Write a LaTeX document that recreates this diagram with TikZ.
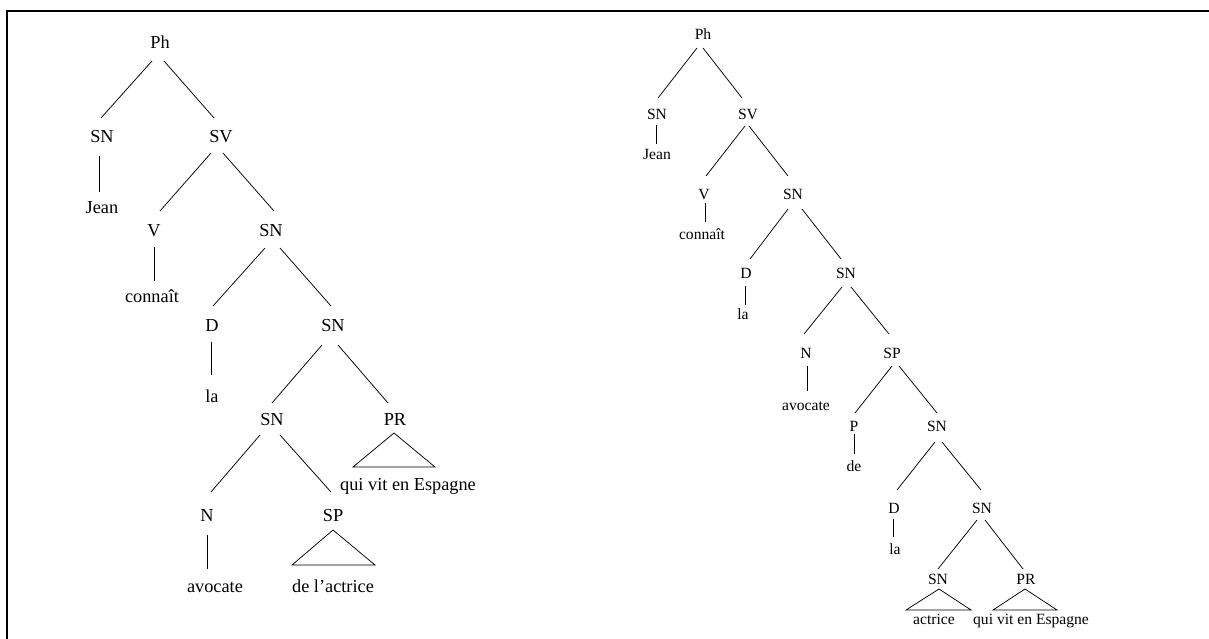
\documentclass[tikz,border=0pt]{standalone}
\usepackage{fontspec}
\setmainfont{Liberation Serif}
\usetikzlibrary{calc}
\newcommand\lfont{\fontsize{18.3}{20}\selectfont}
\newcommand\rfont{\fontsize{15.6}{17}\selectfont}
\newcommand\tedge[4]{\draw[branch] ($(#1)+#2$) -- ($(#3)+#4$);}
\newcommand\ttri[4]{\draw[branch] ($(#1)+#2$) -- ($(#1)+#3$) -- ($(#1)+#4$) -- cycle;}
\tikzset{
  branch/.style={line width=0.75pt, line join=miter},
  lt/.style={inner sep=0pt, font=\lfont, text height=12.1pt, text depth=0pt},
  rt/.style={inner sep=0pt, font=\rfont, text height=10.3pt, text depth=0pt},
  frame/.style={line width=2.3pt}
}
\begin{document}
\begin{tikzpicture}[x=1pt,y=-1pt]
\useasboundingbox (0,0) rectangle (1209,639);
\fill[white] (0,0) rectangle (1209,639);
% frame
\coordinate (fbl) at (7,645);
\coordinate (ftl) at (7,11);
\coordinate (ftr) at (1215,11);
\draw[frame] (fbl) -- (ftl) -- (ftr);

% ---------- left tree ----------
\node[lt] (Lph)   at (160,42)  {Ph};
\node[lt] (Lsn1)  at (102,136) {SN};
\node[lt] (Lsv)   at (221,136) {SV};
\node[lt] (Ljean) at (102,207) {Jean};
\node[lt] (Lv)    at (154,230) {V};
\node[lt] (Lsn2)  at (271,230) {SN};
\node[lt] (Lconn) at (152,296) {connaît};
\node[lt] (Ld)    at (212,325) {D};
\node[lt] (Lsn3)  at (333,325) {SN};
\node[lt] (Lla)   at (212,396) {la};
\node[lt] (Lsn4)  at (272,419) {SN};
\node[lt] (Lpr)   at (395,419) {PR};
\node[lt] (Lqui)  at (408,484) {qui vit en Espagne};
\node[lt] (Ln)    at (207,515) {N};
\node[lt] (Lsp)   at (333,515) {SP};
\node[lt] (Lavoc) at (215,586) {avocate};
\node[lt] (Ldela) at (333,586) {de l’actrice};

\tedge{Lph}{(-8,19)}{Lsn1}{(-1,-18)}
\tedge{Lph}{(4,19)}{Lsv}{(-7,-18)}
\tedge{Lsn1}{(-3,20)}{Ljean}{(-3,-15)}
\tedge{Lsv}{(-10,17)}{Lv}{(6,-19)}
\tedge{Lsv}{(2,17)}{Lsn2}{(3,-19)}
\tedge{Lv}{(0,17)}{Lconn}{(2,-15)}
\tedge{Lsn2}{(-6,18)}{Ld}{(1,-19)}
\tedge{Lsn2}{(9,18)}{Lsn3}{(-2,-19)}
\tedge{Ld}{(-1,17)}{Lla}{(-1,-21)}
\tedge{Lsn3}{(-11,20)}{Lsn4}{(0,-16)}
\tedge{Lsn3}{(5,20)}{Lpr}{(-7,-16)}
\tedge{Lsn4}{(-12,16)}{Ln}{(4,-23)}
\tedge{Lsn4}{(8,16)}{Lsp}{(-2,-23)}
\tedge{Ln}{(0,20)}{Lavoc}{(-8,-17)}
\ttri{Lpr}{(-1,14)}{(-42,48)}{(40,48)}
\ttri{Lsp}{(0,15)}{(-41,50)}{(42,50)}

% ---------- right tree ----------
\node[rt] (Rph)   at (703,34)  {Ph};
\node[rt] (Rsn1)  at (657,114) {SN};
\node[rt] (Rsv)   at (748,114) {SV};
\node[rt] (Rjean) at (657,154) {Jean};
\node[rt] (Rv)    at (704,194) {V};
\node[rt] (Rsn2)  at (793,194) {SN};
\node[rt] (Rconn) at (702,234) {connaît};
\node[rt] (Rd)    at (746,273) {D};
\node[rt] (Rsn3)  at (846,273) {SN};
\node[rt] (Rla)   at (743,314) {la};
\node[rt] (Rn)    at (806,353) {N};
\node[rt] (Rsp)   at (892,353) {SP};
\node[rt] (Ravoc) at (806,405) {avocate};
\node[rt] (Rp)    at (854,426) {P};
\node[rt] (Rsn4)  at (937,426) {SN};
\node[rt] (Rde)   at (854,466) {de};
\node[rt] (Rd2)   at (894,508) {D};
\node[rt] (Rsn5)  at (982,508) {SN};
\node[rt] (Rla2)  at (895,549) {la};
\node[rt] (Rsn6)  at (938,579) {SN};
\node[rt] (Rpr)   at (1026,579) {PR};
\node[rt] (Ractr) at (934,619) {actrice};
\node[rt] (Rqui)  at (1031,619) {qui vit en Espagne};

\tedge{Rph}{(-6,14)}{Rsn1}{(1,-16)}
\tedge{Rph}{(0,14)}{Rsv}{(-6,-16)}
\tedge{Rsn1}{(-1,11)}{Rjean}{(-1,-10)}
\tedge{Rsv}{(-3,12)}{Rv}{(2,-18)}
\tedge{Rsv}{(1,12)}{Rsn2}{(-5,-18)}
\tedge{Rv}{(1,9)}{Rconn}{(3,-12)}
\tedge{Rsn2}{(-5,15)}{Rd}{(4,-14)}
\tedge{Rsn2}{(9,15)}{Rsn3}{(-5,-14)}
\tedge{Rd}{(-1,13)}{Rla}{(2,-9)}
\tedge{Rsn3}{(-4,14)}{Rn}{(-2,-19)}
\tedge{Rsn3}{(5,14)}{Rsp}{(-3,-19)}
\tedge{Rn}{(1,13)}{Ravoc}{(1,-14)}
\tedge{Rsp}{(0,13)}{Rp}{(1,-13)}
\tedge{Rsp}{(7,13)}{Rsn4}{(0,-13)}
\tedge{Rp}{(0,8)}{Rde}{(0,-12)}
\tedge{Rsn4}{(-2,16)}{Rd2}{(3,-18)}
\tedge{Rsn4}{(5,16)}{Rsn5}{(-1,-18)}
\tedge{Rd2}{(-1,11)}{Rla2}{(-2,-12)}
\tedge{Rsn5}{(-5,12)}{Rsn6}{(0,-10)}
\tedge{Rsn5}{(3,12)}{Rpr}{(-3,-10)}
\ttri{Rsn6}{(1,10)}{(-32,31)}{(33,31)}
\ttri{Rpr}{(-1,10)}{(-33,31)}{(31,31)}
\end{tikzpicture}
\end{document}
